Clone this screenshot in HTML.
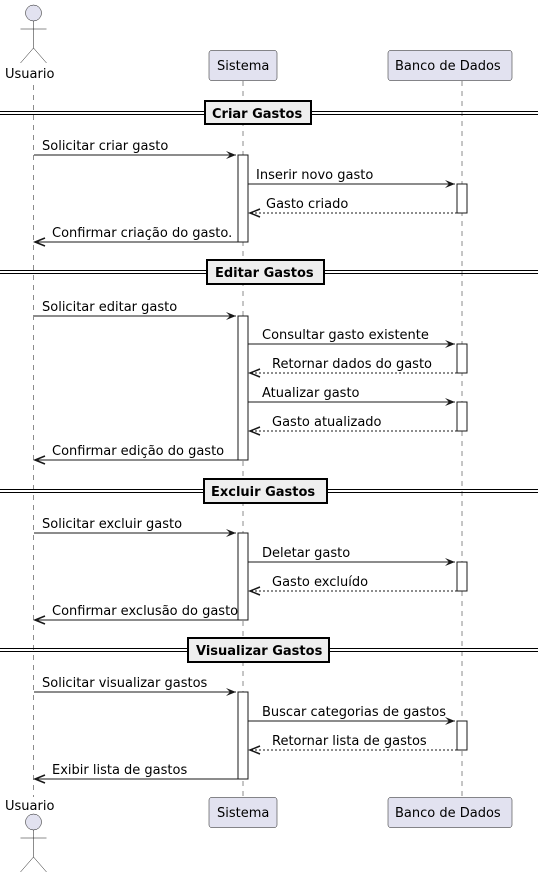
<!DOCTYPE html>
<html><head><meta charset="utf-8"><style>
html,body{margin:0;padding:0;background:#fff}
svg{display:block}
text{font-family:"DejaVu Sans","Liberation Sans",sans-serif;font-size:13px;fill:#000}
.b{font-weight:bold}
</style></head><body>
<svg width="538" height="878" viewBox="0 0 538 878" xmlns="http://www.w3.org/2000/svg">
<g stroke="#181818" stroke-width="0.5" stroke-dasharray="5,5">
<line x1="33.5" y1="85" x2="33.5" y2="797"/>
<line x1="243" y1="81" x2="243" y2="797"/>
<line x1="462" y1="81" x2="462" y2="797"/>
</g>
<g fill="#E2E2F0" stroke="#181818" stroke-width="0.5">
<rect x="209" y="50.5" width="68" height="30" rx="2.5"/>
<rect x="388" y="50.5" width="124" height="30" rx="2.5"/>
<rect x="209" y="797.5" width="68" height="30" rx="2.5"/>
<rect x="388" y="797.5" width="124" height="30" rx="2.5"/>
</g>
<text x="217" y="70">Sistema</text><text x="395" y="70">Banco de Dados</text>
<text x="217" y="817">Sistema</text><text x="395" y="817">Banco de Dados</text>
<g fill="#E2E2F0" stroke="#181818" stroke-width="0.5">
<circle cx="33.5" cy="13" r="8"/>
<circle cx="33.5" cy="822" r="8"/>
</g>
<g stroke="#181818" stroke-width="0.5" fill="none">
<path d="M33.5 21V48M20.5 29H46.5M33.5 48L20.5 63M33.5 48L46.5 63"/>
<path d="M33.5 830V857M20.5 838H46.5M33.5 857L20.5 872M33.5 857L46.5 872"/>
</g>
<text x="5" y="78">Usuario</text>
<text x="5" y="810">Usuario</text>
<g stroke="#000" stroke-width="1" fill="none">
<line x1="0" y1="111.5" x2="538" y2="111.5"/><line x1="0" y1="114.5" x2="538" y2="114.5"/>
<line x1="0" y1="270.5" x2="538" y2="270.5"/><line x1="0" y1="273.5" x2="538" y2="273.5"/>
<line x1="0" y1="489.5" x2="538" y2="489.5"/><line x1="0" y1="492.5" x2="538" y2="492.5"/>
<line x1="0" y1="648.5" x2="538" y2="648.5"/><line x1="0" y1="651.5" x2="538" y2="651.5"/>
</g>
<g fill="#EEEEEE" stroke="#000" stroke-width="2">
<rect x="205" y="101" width="106" height="23"/>
<rect x="207" y="260" width="117" height="24"/>
<rect x="204" y="479" width="123" height="24"/>
<rect x="188" y="638" width="141" height="24"/>
</g>
<text class="b" x="212" y="118">Criar Gastos</text>
<text class="b" x="215" y="277">Editar Gastos</text>
<text class="b" x="211" y="496">Excluir Gastos</text>
<text class="b" x="196" y="655">Visualizar Gastos</text>
<g fill="#fff" stroke="#181818" stroke-width="1">
<rect x="238" y="155" width="10" height="87"/>
<rect x="457" y="184" width="10" height="29"/>
<rect x="238" y="316" width="10" height="144"/>
<rect x="457" y="344" width="10" height="29"/>
<rect x="457" y="402" width="10" height="29"/>
<rect x="238" y="533" width="10" height="87"/>
<rect x="457" y="562" width="10" height="29"/>
<rect x="238" y="692" width="10" height="87"/>
<rect x="457" y="721" width="10" height="29"/>
</g>
<g stroke="#181818" stroke-width="1" fill="none">
<line x1="34" y1="155" x2="236" y2="155"/>
<line x1="248" y1="184" x2="455" y2="184"/>
<line x1="238" y1="242" x2="35" y2="242"/>
<line x1="34" y1="316" x2="236" y2="316"/>
<line x1="248" y1="344" x2="455" y2="344"/>
<line x1="248" y1="402" x2="455" y2="402"/>
<line x1="238" y1="460" x2="35" y2="460"/>
<line x1="34" y1="533" x2="236" y2="533"/>
<line x1="248" y1="562" x2="455" y2="562"/>
<line x1="238" y1="620" x2="35" y2="620"/>
<line x1="34" y1="692" x2="236" y2="692"/>
<line x1="248" y1="721" x2="455" y2="721"/>
<line x1="238" y1="779" x2="35" y2="779"/>
</g>
<g stroke="#181818" stroke-width="1" fill="none" stroke-dasharray="2,2">
<line x1="457" y1="213" x2="250" y2="213"/>
<line x1="457" y1="373" x2="250" y2="373"/>
<line x1="457" y1="431" x2="250" y2="431"/>
<line x1="457" y1="591" x2="250" y2="591"/>
<line x1="457" y1="750" x2="250" y2="750"/>
</g>
<g fill="#181818">
<polygon points="236,155 226,151 230,155 226,159"/>
<polygon points="455,184 445,180 449,184 445,188"/>
<polygon points="236,316 226,312 230,316 226,320"/>
<polygon points="455,344 445,340 449,344 445,348"/>
<polygon points="455,402 445,398 449,402 445,406"/>
<polygon points="236,533 226,529 230,533 226,537"/>
<polygon points="455,562 445,558 449,562 445,566"/>
<polygon points="236,692 226,688 230,692 226,696"/>
<polygon points="455,721 445,717 449,721 445,725"/>
</g>
<g stroke="#181818" stroke-width="1.5" fill="none">
<path d="M260 209L250 213L260 217"/>
<path d="M45 238L35 242L45 246"/>
<path d="M260 369L250 373L260 377"/>
<path d="M260 427L250 431L260 435"/>
<path d="M45 456L35 460L45 464"/>
<path d="M260 587L250 591L260 595"/>
<path d="M45 616L35 620L45 624"/>
<path d="M260 746L250 750L260 754"/>
<path d="M45 775L35 779L45 783"/>
</g>
<text x="42" y="150">Solicitar criar gasto</text>
<text x="256" y="179">Inserir novo gasto</text>
<text x="266" y="208">Gasto criado</text>
<text x="52" y="237">Confirmar criação do gasto.</text>
<text x="42" y="311">Solicitar editar gasto</text>
<text x="262" y="339">Consultar gasto existente</text>
<text x="272" y="368">Retornar dados do gasto</text>
<text x="262" y="397">Atualizar gasto</text>
<text x="272" y="426">Gasto atualizado</text>
<text x="52" y="455">Confirmar edição do gasto</text>
<text x="42" y="528">Solicitar excluir gasto</text>
<text x="262" y="557">Deletar gasto</text>
<text x="272" y="586">Gasto excluído</text>
<text x="52" y="615">Confirmar exclusão do gasto</text>
<text x="42" y="687">Solicitar visualizar gastos</text>
<text x="262" y="716">Buscar categorias de gastos</text>
<text x="272" y="745">Retornar lista de gastos</text>
<text x="52" y="774">Exibir lista de gastos</text>
</svg>
</body></html>
